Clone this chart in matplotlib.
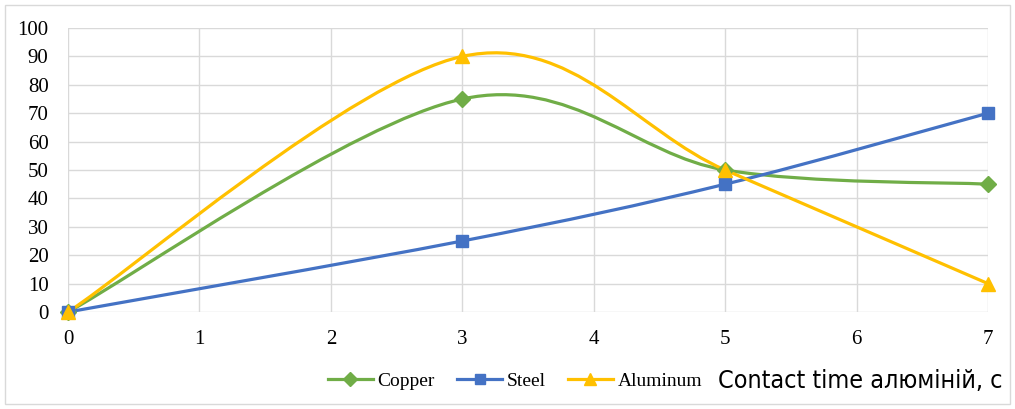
import matplotlib.pyplot as plt
import numpy as np
from matplotlib import font_manager
from matplotlib.path import Path
from matplotlib.patches import PathPatch, Rectangle
from matplotlib.lines import Line2D

# contact time points and measured values
x_vals = [0, 3, 5, 7]
copper = [0, 75, 50, 45]
steel = [0, 25, 45, 70]
aluminum = [0, 90, 50, 10]

series = [
    ("Copper", copper, "#70AD47", "D", 8),
    ("Steel", steel, "#4472C4", "s", 8.5),
    ("Aluminum", aluminum, "#FFC000", "^", 10),
]

x_ticks = list(range(0, 8))
y_ticks = list(range(0, 101, 10))
x_title = "Contact time алюміній, с"


def smooth_path(xs, ys):
    # Excel-like smoothed line: cubic bezier with catmull-rom control points
    pts = np.column_stack([xs, ys]).astype(float)
    n = len(pts)
    verts = [pts[0]]
    codes = [Path.MOVETO]
    for i in range(n - 1):
        p0 = pts[i - 1] if i > 0 else pts[i]
        p1 = pts[i]
        p2 = pts[i + 1]
        p3 = pts[i + 2] if i + 2 < n else pts[i + 1]
        c1 = p1 + (p2 - p0) / 6.0
        c2 = p2 - (p3 - p1) / 6.0
        verts += [c1, c2, p2]
        codes += [Path.CURVE4] * 3
    return Path(verts, codes)


fig = plt.figure(figsize=(10.15, 4.09), dpi=100)
ax = fig.add_axes([68 / 1015, 1 - 312 / 409, 920 / 1015, 284 / 409])

serif = "Liberation Serif"
handles = []
for name, vals, color, marker, ms in series:
    patch = PathPatch(smooth_path(x_vals, vals), facecolor="none",
                      edgecolor=color, lw=2.3, zorder=3, capstyle="round")
    ax.add_patch(patch)
    ax.plot(x_vals, vals, linestyle="none", marker=marker, ms=ms,
            color=color, zorder=4, clip_on=False)
    handles.append(Line2D([], [], color=color, lw=2.3, marker=marker,
                          ms=ms * 0.85, label=name))

ax.set_xlim(0, 7)
ax.set_ylim(0, 100)
ax.set_xticks(x_ticks)
ax.set_yticks(y_ticks)
ax.grid(True, color="#D9D9D9", lw=1)
ax.set_axisbelow(True)
for s in ax.spines.values():
    s.set_visible(False)
ax.tick_params(length=0, labelsize=15, pad=13)
ax.tick_params(axis="y", pad=14)
for lab in ax.get_xticklabels() + ax.get_yticklabels():
    lab.set_fontfamily(serif)

fig.legend(handles=handles, loc="center left", bbox_to_anchor=(322 / 1015, 1 - 381 / 409),
           ncol=3, frameon=False, handlelength=2.3, handletextpad=0.25,
           columnspacing=1.15, borderaxespad=0, borderpad=0.3,
           prop={"family": serif, "size": 14})

# narrow sans for the axis title if one is installed
title_prop = font_manager.FontProperties(family="DejaVu Sans", size=15.5)
for fam in ["Liberation Sans Narrow", "DejaVu Sans"]:
    fp = font_manager.FontProperties(family=fam, stretch="condensed")
    try:
        path = font_manager.findfont(fp, fallback_to_default=False)
    except ValueError:
        continue
    if "Narrow" in path or "Condensed" in path:
        title_prop = font_manager.FontProperties(fname=path, size=18)
        break

fig.text(718 / 1015, 1 - 381 / 409, x_title, ha="left", va="center",
         fontproperties=title_prop)

fig.patches.append(Rectangle((5 / 1015, 5 / 409), 1005 / 1015, 399 / 409,
                             transform=fig.transFigure, fill=False,
                             edgecolor="#D9D9D9", lw=1))

fig.savefig("out.png", dpi=100)
